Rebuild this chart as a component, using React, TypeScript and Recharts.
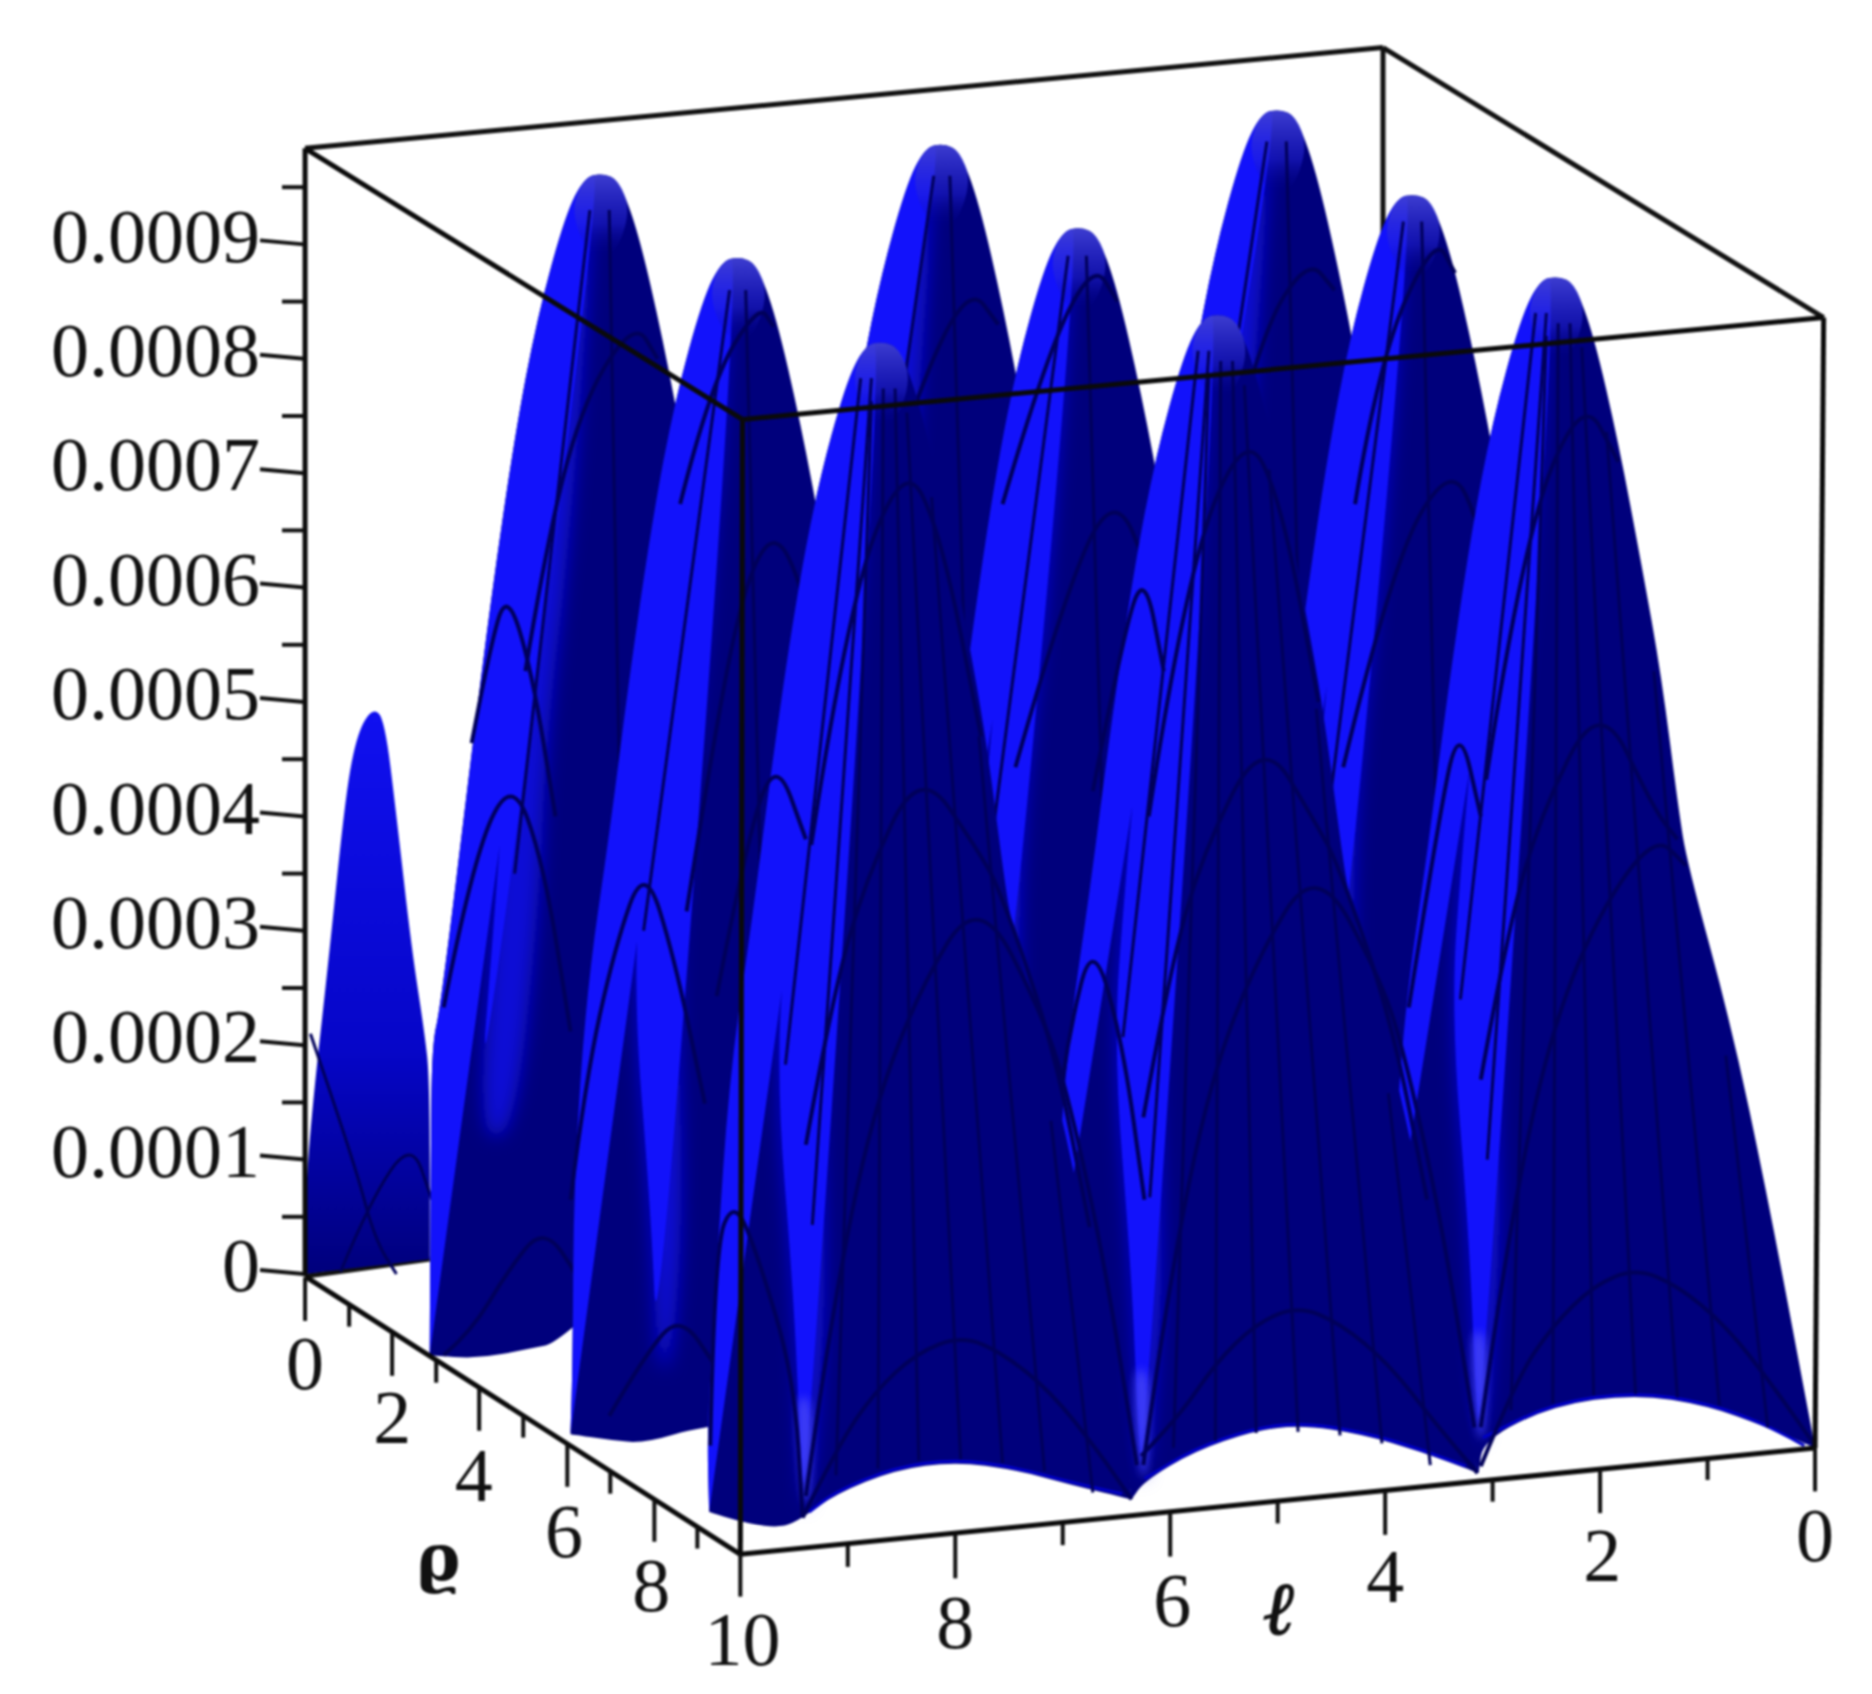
import React from 'react';
import { ScatterChart, Scatter, XAxis, YAxis, ReferenceDot } from 'recharts';

// Surface. u = position along the projected l axis, z = height in units of 1e-4.
type P = [number, number];

const zTicks = [0, 0.5, 1, 1.5, 2, 2.5, 3, 3.5, 4, 4.5, 5, 5.5, 6, 6.5, 7, 7.5, 8, 8.5, 9, 9.5];

// Bounding box edges
const boxBehind: P[][] = [
  [[14.05, 9.84], [4.02, 10.72]],
  [[4.02, 10.72], [-0.08, 8.36]],
  [[4.02, 10.72], [4.02, 8.3]],
  [[14.05, -0.02], [12.89, 0.13]],
];
const boxFront: P[][] = [
  [[14.05, 9.84], [14.05, -0.02]],
  [[14.05, 9.84], [9.98, 7.47]],
  [[9.98, 7.47], [-0.08, 8.36]],
  [[9.98, 7.47], [10.0, -2.45]],
  [[-0.08, 8.36], [0, -1.52]],
  [[14.05, -0.02], [10.0, -2.45]],
  [[10.0, -2.45], [0, -1.52]],
];

const qTickMarks: P[][] = [
  [[14.05, -0.03], [14.05, -0.41]],
  [[13.64, -0.27], [13.64, -0.46]],
  [[13.24, -0.52], [13.24, -0.89]],
  [[12.83, -0.76], [12.83, -0.95]],
  [[12.43, -1.0], [12.43, -1.37]],
  [[12.02, -1.24], [12.02, -1.43]],
  [[11.61, -1.49], [11.61, -1.86]],
  [[11.21, -1.73], [11.21, -1.92]],
  [[10.8, -1.97], [10.8, -2.34]],
  [[10.4, -2.21], [10.4, -2.4]],
  [[10.0, -2.45], [10.0, -2.82]],
];
const lTickMarks: P[][] = [
  [[0, -1.52], [0, -1.9]],
  [[1, -1.61], [1, -1.8]],
  [[2, -1.71], [2, -2.09]],
  [[3, -1.8], [3, -1.99]],
  [[4, -1.9], [4, -2.28]],
  [[5, -1.99], [5, -2.18]],
  [[6, -2.09], [6, -2.47]],
  [[7, -2.18], [7, -2.37]],
  [[8, -2.28], [8, -2.66]],
  [[9, -2.37], [9, -2.56]],
];
const qLabels: [string, number, number][] = [
  ['0', 14.05, -0.77], ['2', 13.24, -1.24], ['4', 12.48, -1.75], ['6', 11.64, -2.24], ['8', 10.83, -2.71], ['10', 9.98, -3.18],
];
const lLabels: [string, number, number][] = [
  ['0', 0, -2.27], ['2', 1.98, -2.45], ['4', 4.0, -2.63], ['6', 5.98, -2.84], ['8', 8.0, -3.03],
];

// Small hump at the back-left corner
const outlineA: P[] = [[14.05, 0], [14.05, 0], [14.05, 0.65], [13.98, 1.49], [13.83, 2.75], [13.67, 4.22], [13.56, 4.74], [13.42, 4.95], [13.31, 4.85], [13.2, 4.01], [13.06, 2.85], [12.94, 2.12], [12.89, 1.7], [12.89, 0.13], [12.89, 0.13]];
const arcsA: P[][] = [
  [[13.72, 0.02], [13.44, 0.65], [13.06, 1.17], [12.87, 0.65]],
  [[14.0, 2.1], [13.6, 1.0], [13.4, 0.3], [13.2, 0]],
];

// Back row
const flankF: P[] = [[6.7, 0.54], [6.53, 2.11], [6.41, 3.78], [6.19, 5.19], [6.02, 6.46], [5.8, 7.88], [5.59, 8.92], [5.33, 9.81], [5.15, 10.15], [4.98, 10.18]];
const rightF: P[] = [[4.83, 10.12], [4.65, 9.67], [4.42, 8.73], [4.2, 7.64], [4.02, 6.69], [3.86, 5.52]];
const brightF: P[] = [[5.09, 10.12], [5.46, 8.4], [5.7, 6.94], [5.87, 5.19]];
const midF: P[] = [[5.09, 9.45], [5.29, 6.94], [5.51, 5.19]];
const capF: P[] = [[5.28, 9.85], [5.15, 10.15], [4.98, 10.18], [4.83, 10.12], [4.72, 9.85], [4.87, 9.45], [5.11, 9.45]];
const arcsF: P[][] = [[[5.5, 6.94], [5.17, 8.2], [4.72, 8.88], [4.47, 8.6]]];
const meshF: P[][] = [[[4.92, 9.9], [4.8, 5.5]], [[5.1, 9.9], [5.8, 5.5]]];

const flankD: P[] = [[9.83, 0.24], [9.66, 1.81], [9.54, 3.48], [9.32, 4.89], [9.15, 6.16], [8.93, 7.58], [8.72, 8.62], [8.46, 9.51], [8.28, 9.85], [8.11, 9.88]];
const rightD: P[] = [[7.96, 9.82], [7.78, 9.37], [7.55, 8.43], [7.33, 7.34], [7.15, 6.39], [6.99, 5.22]];
const brightD: P[] = [[8.22, 9.82], [8.59, 8.1], [8.83, 6.64], [9.0, 4.89]];
const midD: P[] = [[8.22, 9.15], [8.42, 6.64], [8.64, 4.89]];
const capD: P[] = [[8.41, 9.55], [8.28, 9.85], [8.11, 9.88], [7.96, 9.82], [7.85, 9.55], [8.0, 9.15], [8.24, 9.15]];
const arcsD: P[][] = [[[8.72, 6.63], [8.33, 7.78], [7.87, 8.64], [7.6, 8.3]]];
const meshD: P[][] = [[[8.05, 9.6], [7.9, 5]], [[8.2, 9.6], [8.9, 5]]];

const flankB: P[] = [[12.89, -0.71], [12.89, -0.71], [12.88, 1.0], [12.87, 2.01], [12.79, 2.32], [12.49, 4.63], [12.32, 5.9], [12.1, 7.32], [11.89, 8.36], [11.63, 9.25], [11.45, 9.59], [11.28, 9.62]];
const rightB: P[] = [[11.13, 9.56], [10.95, 9.11], [10.72, 8.17], [10.5, 7.08], [10.32, 6.13], [10.16, 4.96], [10.08, 4.49], [9.67, 3.08], [9.33, 1.57], [11.63, -0.59], [12.0, -0.66], [12.44, -0.74]];
const brightB: P[] = [[11.39, 9.56], [11.76, 7.84], [12.0, 6.38], [12.17, 4.63], [12.28, 3.22], [12.45, 1.2]];
const midB: P[] = [[11.39, 8.89], [11.59, 6.38], [11.81, 4.63], [11.87, 3.22], [12.1, 1.2]];
const capB: P[] = [[11.58, 9.29], [11.45, 9.59], [11.28, 9.62], [11.13, 9.56], [11.02, 9.29], [11.17, 8.89], [11.41, 8.89]];
const arcsB: P[][] = [
  [[12.0, 5.27], [11.78, 6.52], [11.44, 7.68], [10.98, 8.33], [10.77, 8.0]],
  [[12.5, 4.64], [12.33, 5.48], [12.17, 5.98], [11.94, 5.27], [11.72, 4.0]],
  [[12.76, 2.33], [12.5, 3.59], [12.13, 4.37], [11.83, 3.59], [11.58, 2.12]],
  [[12.76, -0.71], [12.5, -0.5], [12.17, 0.02], [11.83, 0.42], [11.5, -0.03], [11.33, -0.4]],
];
const meshB: P[][] = [[[11.22, 9.3], [11.1, 3]], [[11.4, 9.3], [12.1, 3.5]]];

// Middle row
const flankG: P[] = [[5.44, -0.2], [5.27, 1.37], [5.15, 3.04], [4.93, 4.45], [4.76, 5.72], [4.54, 7.14], [4.33, 8.18], [4.07, 9.07], [3.89, 9.41], [3.72, 9.44]];
const rightG: P[] = [[3.57, 9.38], [3.39, 8.93], [3.16, 7.99], [2.94, 6.9], [2.76, 5.95], [2.6, 4.78], [2.52, 4.31], [2.11, 2.9], [1.77, 1.39]];
const brightG: P[] = [[3.83, 9.38], [4.2, 7.66], [4.44, 6.2], [4.61, 4.45], [4.72, 3.04], [4.55, 1.07]];
const midG: P[] = [[3.83, 8.71], [4.03, 6.2], [4.25, 4.45], [4.31, 3.04], [4.25, 1.07]];
const capG: P[] = [[4.02, 9.11], [3.89, 9.41], [3.72, 9.44], [3.57, 9.38], [3.46, 9.11], [3.61, 8.71], [3.85, 8.71]];
const arcsG: P[][] = [
  [[4.28, 6.73], [4.06, 7.99], [3.54, 9.08], [3.35, 8.75]],
  [[4.39, 4.43], [3.94, 6.21], [3.39, 7.1], [3.11, 6.52], [2.94, 5.69]],
];
const meshG: P[][] = [[[3.66, 9.2], [3.5, 3]], [[3.83, 9.2], [4.6, 3.5]]];

const flankE: P[] = [[8.55, -0.49], [8.38, 1.08], [8.26, 2.75], [8.04, 4.16], [7.87, 5.43], [7.65, 6.85], [7.44, 7.89], [7.18, 8.78], [7.0, 9.12], [6.83, 9.15]];
const rightE: P[] = [[6.68, 9.09], [6.5, 8.64], [6.27, 7.7], [6.05, 6.61], [5.87, 5.66], [5.71, 4.49], [5.63, 4.02], [5.22, 2.61], [4.88, 1.1]];
const brightE: P[] = [[6.94, 9.09], [7.31, 7.37], [7.55, 5.91], [7.72, 4.16], [7.83, 2.75], [7.66, 0.78]];
const midE: P[] = [[6.94, 8.42], [7.14, 5.91], [7.36, 4.16], [7.42, 2.75], [7.36, 0.78]];
const capE: P[] = [[7.13, 8.82], [7.0, 9.12], [6.83, 9.15], [6.68, 9.09], [6.57, 8.82], [6.72, 8.42], [6.96, 8.42]];
const arcsE: P[][] = [
  [[7.56, 6.73], [7.17, 7.99], [6.72, 8.85], [6.49, 8.5]],
  [[7.44, 4.43], [7.0, 5.9], [6.53, 6.87], [6.17, 6.1], [6.06, 5.27]],
];
const meshE: P[][] = [[[6.78, 8.9], [6.6, 3]], [[6.95, 8.9], [7.7, 3.5]]];

const flankC: P[] = [[11.58, -1.4], [11.58, -1.4], [11.56, -0.76], [11.55, 0.82], [11.43, 2.49], [11.21, 3.9], [11.04, 5.17], [10.82, 6.59], [10.61, 7.63], [10.35, 8.52], [10.17, 8.86], [10.0, 8.89]];
const rightC: P[] = [[9.85, 8.83], [9.67, 8.38], [9.44, 7.44], [9.22, 6.35], [9.04, 5.4], [8.88, 4.23], [8.8, 3.76], [8.39, 2.35], [8.05, 0.84], [7.68, -1.0], [10.33, -1.32], [10.89, -1.48], [11.22, -1.45]];
const brightC: P[] = [[10.11, 8.83], [10.48, 7.11], [10.72, 5.65], [10.89, 3.9], [11.0, 2.49], [10.83, 0.52], [10.77, -0.83]];
const midC: P[] = [[10.11, 8.16], [10.31, 5.65], [10.53, 3.9], [10.59, 2.49], [10.53, 0.52], [10.64, -0.82]];
const capC: P[] = [[10.3, 8.56], [10.17, 8.86], [10.0, 8.89], [9.85, 8.83], [9.74, 8.56], [9.89, 8.16], [10.13, 8.16]];
const arcsC: P[][] = [
  [[10.56, 6.73], [10.28, 7.78], [9.83, 8.48], [9.69, 8.28]],
  [[10.5, 3.17], [10.22, 4.85], [9.94, 6.1], [9.67, 6.5], [9.42, 6.0], [9.28, 5.27]],
  [[11.58, 0.65], [11.44, 1.7], [11.17, 2.85], [10.89, 3.6], [10.61, 2.75], [10.33, 1.49]],
  [[11.22, -1.24], [10.89, -0.71], [10.56, -0.35], [10.22, -0.82]],
];
const meshC: P[][] = [[[9.95, 8.6], [9.8, 3]], [[10.1, 8.6], [10.9, 3]]];

// Front row
const flankJ: P[] = [[4.11, -0.92], [3.94, 0.65], [3.82, 2.32], [3.6, 3.73], [3.43, 5.0], [3.21, 6.42], [3.0, 7.46], [2.74, 8.35], [2.56, 8.69], [2.39, 8.72]];
const rightJ: P[] = [[2.24, 8.66], [2.06, 8.21], [1.83, 7.27], [1.61, 6.18], [1.43, 5.23], [1.27, 4.06], [1.19, 3.59], [0.78, 2.18], [0.44, 0.67], [0.07, -1.17], [0, -1.52], [0, -1.52], [0.44, -1.34], [1.0, -1.15], [1.67, -1.05], [2.44, -1.15], [3.09, -1.45], [3.13, -1.74], [3.13, -1.74], [3.28, -1.34]];
const brightJ: P[] = [[2.5, 8.66], [2.87, 6.94], [3.11, 5.48], [3.28, 3.73], [3.39, 2.32], [3.22, 0.35], [3.16, -1.0], [3.12, -1.5]];
const midJ: P[] = [[2.5, 7.99], [2.7, 5.48], [2.92, 3.73], [2.98, 2.32], [2.92, 0.35], [3.03, -0.99], [3.12, -1.5]];
const capJ: P[] = [[2.69, 8.39], [2.56, 8.69], [2.39, 8.72], [2.24, 8.66], [2.13, 8.39], [2.28, 7.99], [2.52, 7.99]];
const glintJ: P[] = [[3.2, -0.5], [3.07, -0.5], [3.05, -1.0], [3.1, -1.55], [3.16, -1.2]];
const fringeJ: P[] = [[0.1, -1.5], [0.44, -1.32], [1.0, -1.13], [1.67, -1.03], [2.44, -1.13], [3.09, -1.43]];
const arcsJ: P[][] = [
  [[3.11, -1.68], [2.78, -0.92], [2.44, -0.45], [2.06, -0.1], [1.67, 0.05], [1.28, -0.1], [0.83, -0.45], [0.39, -0.98], [0, -1.5]],
  [[3.11, -1.34], [2.92, -0.04], [2.54, 1.85], [2.09, 3.03], [1.5, 3.85], [1.2, 3.57]],
  [[3.11, 1.7], [2.87, 2.96], [2.56, 4.01], [2.0, 5.05], [1.5, 4.06], [1.28, 3.8]],
  [[3.06, 4.32], [2.72, 6.42], [2.17, 7.7], [1.83, 7.1]],
  [[3.78, 2.33], [3.5, 4.0], [3.31, 4.83], [3.11, 4.0]],
];
const meshJ: P[][] = [
  [[2.83, -1.19], [2.5, 8.2]], [[2.44, -1.13], [2.39, 8.31]], [[2.06, -1.06], [2.28, 8.31]], [[1.67, -1.05], [2.17, 8.1]],
  [[1.28, -1.08], [1.94, 7.36]], [[0.89, -1.15], [1.5, 5.27]], [[0.44, -1.34], [0.83, 1.91]],
  [[2.6, 8.4], [3.3, 2.4]], [[2.5, 8.4], [3.05, 1.0]],
];

const flankI: P[] = [[7.25, -1.25], [7.08, 0.32], [6.96, 1.99], [6.74, 3.4], [6.57, 4.67], [6.35, 6.09], [6.14, 7.13], [5.88, 8.02], [5.7, 8.36], [5.53, 8.39]];
const rightI: P[] = [[5.38, 8.33], [5.2, 7.88], [4.97, 6.94], [4.75, 5.85], [4.57, 4.9], [4.41, 3.73], [4.33, 3.26], [3.92, 1.85], [3.58, 0.34], [3.21, -1.5], [3.13, -1.74], [3.13, -1.74], [3.67, -1.55], [4.22, -1.4], [4.78, -1.32], [5.22, -1.37], [5.78, -1.55], [6.24, -1.81], [6.36, -1.97], [6.36, -1.97], [6.41, -1.6]];
const brightI: P[] = [[5.64, 8.33], [6.01, 6.61], [6.25, 5.15], [6.42, 3.4], [6.53, 1.99], [6.36, 0.02], [6.3, -1.33], [6.26, -1.83]];
const midI: P[] = [[5.64, 7.66], [5.84, 5.15], [6.06, 3.4], [6.12, 1.99], [6.06, 0.02], [6.17, -1.32], [6.26, -1.83]];
const capI: P[] = [[5.83, 8.06], [5.7, 8.36], [5.53, 8.39], [5.38, 8.33], [5.27, 8.06], [5.42, 7.66], [5.66, 7.66]];
const glintI: P[] = [[6.34, -0.83], [6.21, -0.83], [6.19, -1.33], [6.24, -1.88], [6.3, -1.53]];
const fringeI: P[] = [[3.25, -1.68], [3.67, -1.53], [4.22, -1.38], [4.78, -1.3], [5.22, -1.35], [5.78, -1.53], [6.24, -1.79]];
const arcsI: P[][] = [
  [[6.27, -1.59], [5.92, -1.25], [5.58, -0.78], [5.2, -0.43], [4.81, -0.28], [4.42, -0.43], [3.97, -0.78], [3.53, -1.31], [3.14, -1.74]],
  [[6.25, -1.67], [6.06, -0.37], [5.68, 1.52], [5.23, 2.7], [4.64, 3.62], [4.03, 2.56], [3.8, 1.85], [3.47, 0.43], [3.17, -1.34]],
  [[6.25, 1.37], [6.01, 2.63], [5.7, 3.68], [5.14, 4.72], [4.64, 3.93], [4.44, 3.59], [3.94, 2.22], [3.61, 0.65]],
  [[6.2, 4.0], [5.86, 6.1], [5.31, 7.4], [4.97, 6.77], [4.62, 5.0]],
  [[7.0, 1.7], [6.94, 2.12], [6.72, 2.95], [6.44, 2.01], [6.24, 0.65]],
  [[6.72, 4.22], [6.44, 5.58], [6.24, 6.15], [6.06, 5.27]],
];
const meshI: P[][] = [
  [[5.97, -1.52], [5.64, 7.87]], [[5.58, -1.46], [5.53, 7.98]], [[5.2, -1.39], [5.42, 7.98]], [[4.81, -1.38], [5.31, 7.77]],
  [[4.42, -1.41], [5.08, 7.03]], [[4.03, -1.48], [4.64, 4.94]], [[3.58, -1.67], [3.97, 1.58]],
  [[5.74, 8.07], [6.44, 2.07]], [[5.64, 8.07], [6.19, 0.67]],
];

const flankH: P[] = [[10.29, -2.08], [10.29, -2.08], [10.31, -1.32], [10.22, 0.08], [10.1, 1.75], [9.88, 3.16], [9.71, 4.43], [9.49, 5.85], [9.28, 6.89], [9.02, 7.78], [8.84, 8.12], [8.67, 8.15]];
const rightH: P[] = [[8.52, 8.09], [8.34, 7.64], [8.11, 6.7], [7.89, 5.61], [7.71, 4.66], [7.55, 3.49], [7.47, 3.02], [7.06, 1.61], [6.72, 0.1], [6.38, -1.74], [6.36, -1.97], [6.36, -1.97], [6.89, -1.85], [7.44, -1.71], [8.0, -1.64], [8.56, -1.71], [9.11, -1.92], [9.42, -2.13], [9.61, -2.22], [9.94, -2.18]];
const brightH: P[] = [[8.78, 8.09], [9.15, 6.37], [9.39, 4.91], [9.56, 3.16], [9.67, 1.75], [9.5, -0.22], [9.44, -1.57], [9.4, -2.07]];
const midH: P[] = [[8.78, 7.42], [8.98, 4.91], [9.2, 3.16], [9.26, 1.75], [9.2, -0.22], [9.31, -1.56], [9.4, -2.07]];
const capH: P[] = [[8.97, 7.82], [8.84, 8.12], [8.67, 8.15], [8.52, 8.09], [8.41, 7.82], [8.56, 7.42], [8.8, 7.42]];
const glintH: P[] = [[9.48, -1.07], [9.35, -1.07], [9.33, -1.57], [9.38, -2.12], [9.44, -1.77]];
const fringeH: P[] = [[6.45, -1.92], [6.89, -1.83], [7.44, -1.69], [8.0, -1.62], [8.56, -1.69], [9.11, -1.9], [9.36, -2.08]];
const arcsH: P[][] = [
  [[9.42, -2.13], [9.09, -1.5], [8.75, -1.03], [8.36, -0.69], [7.94, -0.54], [7.56, -0.69], [7.11, -1.03], [6.67, -1.55], [6.36, -1.97]],
  [[9.39, -1.94], [9.2, -0.64], [8.82, 1.25], [8.37, 2.43], [7.78, 3.35], [7.17, 2.23], [6.94, 1.52], [6.61, 0.1], [6.31, -1.67]],
  [[9.39, 1.13], [9.15, 2.39], [8.84, 3.44], [8.33, 4.45], [7.78, 3.69], [7.58, 3.35], [7.08, 1.98], [6.75, 0.41]],
  [[9.34, 3.75], [9.0, 5.85], [8.48, 7.12], [8.14, 6.5], [7.76, 4.7]],
  [[10.22, 2.43], [9.94, 3.8], [9.67, 4.53], [9.39, 3.8]],
  [[10.28, -1.5], [10.24, 0.23], [10.06, 0.65], [9.85, 0.2], [9.5, -0.9], [9.42, -2.13]],
];
const meshH: P[][] = [
  [[9.11, -1.76], [8.78, 7.63]], [[8.72, -1.7], [8.67, 7.74]], [[8.34, -1.63], [8.56, 7.74]], [[7.95, -1.62], [8.45, 7.53]],
  [[7.56, -1.65], [8.22, 6.79]], [[7.17, -1.72], [7.78, 4.7]], [[6.72, -1.91], [7.11, 1.34]],
  [[8.88, 7.83], [9.58, 1.83]], [[8.78, 7.83], [9.33, 0.43]],
];

const DARK = '#00007c';
const MID = '#0a0ad6';
const BRIGHT = '#1212fb';
const GLINT = '#4040f4';
const FRINGE = '#0000c8';
const LINE = '#00005a';
const SERIF = '"Liberation Serif", serif';

const rows = (pts: P[]) => pts.map(([u, z]) => ({ u, z }));
const noMark = () => <g />;

// Scatter hands the scaled points to its line renderer, which lets it draw filled outlines too
const closedPath = (fill: string, filter?: string) => (props: any) => {
  const pts = props.points;
  const n = pts.length;
  const mid = (a: any, b: any) => `${(a.x + b.x) / 2} ${(a.y + b.y) / 2}`;
  let d = `M${mid(pts[n - 1], pts[0])}`;
  pts.forEach((p: any, i: number) => {
    d += ` Q${p.x} ${p.y} ${mid(p, pts[(i + 1) % n])}`;
  });
  return <path d={d + ' Z'} fill={fill} stroke="none" filter={filter} />;
};

const smoothPath = (color: string, width: number) => (props: any) => {
  const pts = props.points;
  let d = `M${pts[0].x} ${pts[0].y}`;
  for (let i = 1; i < pts.length - 1; i++) {
    const mx = (pts[i].x + pts[i + 1].x) / 2;
    const my = (pts[i].y + pts[i + 1].y) / 2;
    d += ` Q${pts[i].x} ${pts[i].y} ${mx} ${my}`;
  }
  d += ` L${pts[pts.length - 1].x} ${pts[pts.length - 1].y}`;
  return <path d={d} fill="none" stroke={color} strokeWidth={width} />;
};

const polygon = (key: string, pts: P[], fill: string, filter?: string) => (
  <Scatter key={key} data={rows(pts)} shape={noMark} line={closedPath(fill, filter)} isAnimationActive={false} />
);
const stroke = (key: string, pts: P[], color: string, width: number) => (
  <Scatter key={key} data={rows(pts)} shape={noMark} line={smoothPath(color, width)} isAnimationActive={false} />
);

const hump = (id: string, flank: P[], right: P[], bright: P[], mid: P[], cap: P[], arcs: P[][], mesh: P[][], glint?: P[], fringe?: P[]) => [
  polygon(`${id}-body`, [...flank, ...right], DARK),
  // soft band between the lit flank and the dark face
  polygon(`${id}-mid`, [...bright, ...[...mid].reverse()], MID, 'url(#soft)'),
  polygon(`${id}-bright`, [...flank, ...[...bright].reverse()], BRIGHT),
  polygon(`${id}-cap`, cap, 'url(#capFill)'),
  ...(glint ? [polygon(`${id}-glint`, glint, GLINT, 'url(#softSmall)')] : []),
  ...(fringe ? [stroke(`${id}-fringe`, fringe, FRINGE, 3)] : []),
  ...mesh.map((m, i) => stroke(`${id}-mesh${i}`, m, LINE, 3)),
  ...arcs.map((a, i) => stroke(`${id}-arc${i}`, a, LINE, 4)),
];

const ZTick = (props: any) => {
  const { x, y, payload } = props;
  const v = payload.value;
  if (!Number.isInteger(v)) {
    return <line x1={x - 22} y1={y} x2={x} y2={y} stroke="#111" strokeWidth={4} />;
  }
  return (
    <g>
      <line x1={x - 44} y1={y - 4} x2={x} y2={y} stroke="#111" strokeWidth={4} />
      <text x={x - 44} y={y - 4} dy="0.28em" textAnchor="end" fontFamily={SERIF} fontSize={76} fill="#111">
        {v === 0 ? '0' : (v / 10000).toFixed(4)}
      </text>
    </g>
  );
};

const axisLabel = (key: string, text: string, u: number, z: number, extra: any = {}) => (
  <ReferenceDot
    key={key}
    x={u}
    y={z}
    r={0}
    fill="none"
    stroke="none"
    label={{ value: text, position: 'center', fontFamily: SERIF, fontSize: 76, fill: '#111', ...extra }}
  />
);

export default function App() {
  return (
    <div style={{ position: 'absolute', left: 0, top: 0, width: 1872, height: 1694, background: '#fff', filter: 'blur(1.1px)' }}>
      <ScatterChart width={1872} height={1694} margin={{ top: 0, right: 0, bottom: 0, left: 0 }}>
        <defs>
          <filter id="soft" x="-60%" y="-10%" width="220%" height="120%">
            <feGaussianBlur stdDeviation="9" />
          </filter>
          <filter id="softSmall" x="-100%" y="-50%" width="300%" height="200%">
            <feGaussianBlur stdDeviation="4" />
          </filter>
          <linearGradient id="capFill" x1="0" y1="0" x2="0" y2="1">
            <stop offset="0%" stopColor="#4040d4" stopOpacity={0.95} />
            <stop offset="60%" stopColor="#2424d8" stopOpacity={0.5} />
            <stop offset="100%" stopColor="#000090" stopOpacity={0} />
          </linearGradient>
          <linearGradient id="smallHump" x1="0" y1="0" x2="0" y2="1">
            <stop offset="0%" stopColor="#1010f0" />
            <stop offset="60%" stopColor="#0606c8" />
            <stop offset="100%" stopColor="#00007c" />
          </linearGradient>
        </defs>
        <XAxis type="number" dataKey="u" domain={[-0.53, 14.06]} reversed hide />
        <YAxis
          type="number"
          dataKey="z"
          domain={[-3.671, 11.136]}
          ticks={zTicks}
          interval={0}
          width={304}
          axisLine={false}
          tickLine={false}
          tickSize={0}
          tickMargin={0}
          tick={<ZTick />}
        />
        {boxBehind.map((b, i) => stroke(`behind${i}`, b, '#111', 5))}
        {polygon('a-body', outlineA, 'url(#smallHump)')}
        {arcsA.map((a, i) => stroke(`a-arc${i}`, a, LINE, 3))}
        {hump('f', flankF, rightF, brightF, midF, capF, arcsF, meshF)}
        {hump('d', flankD, rightD, brightD, midD, capD, arcsD, meshD)}
        {hump('b', flankB, rightB, brightB, midB, capB, arcsB, meshB)}
        {hump('g', flankG, rightG, brightG, midG, capG, arcsG, meshG)}
        {hump('e', flankE, rightE, brightE, midE, capE, arcsE, meshE)}
        {hump('c', flankC, rightC, brightC, midC, capC, arcsC, meshC)}
        {hump('j', flankJ, rightJ, brightJ, midJ, capJ, arcsJ, meshJ, glintJ, fringeJ)}
        {hump('i', flankI, rightI, brightI, midI, capI, arcsI, meshI, glintI, fringeI)}
        {hump('h', flankH, rightH, brightH, midH, capH, arcsH, meshH, glintH, fringeH)}
        {boxFront.map((b, i) => stroke(`front${i}`, b, '#0a0a0a', 5))}
        {qTickMarks.map((t, i) => stroke(`qtick${i}`, t, '#111', 4))}
        {lTickMarks.map((t, i) => stroke(`ltick${i}`, t, '#111', 4))}
        {qLabels.map(([t, u, z]) => axisLabel(`q${t}`, t, u, z))}
        {lLabels.map(([t, u, z]) => axisLabel(`l${t}`, t, u, z))}
        {axisLabel('qname', 'ϱ', 12.81, -2.47, { fontWeight: 'bold', fontSize: 66, fontFamily: '"DejaVu Serif", serif' })}
        {axisLabel('lname', 'ℓ', 4.98, -2.92, { fontWeight: 'bold', fontStyle: 'italic', fontSize: 74, stroke: '#111', strokeWidth: 1.5, fontFamily: '"DejaVu Serif", serif' })}
      </ScatterChart>
    </div>
  );
}
